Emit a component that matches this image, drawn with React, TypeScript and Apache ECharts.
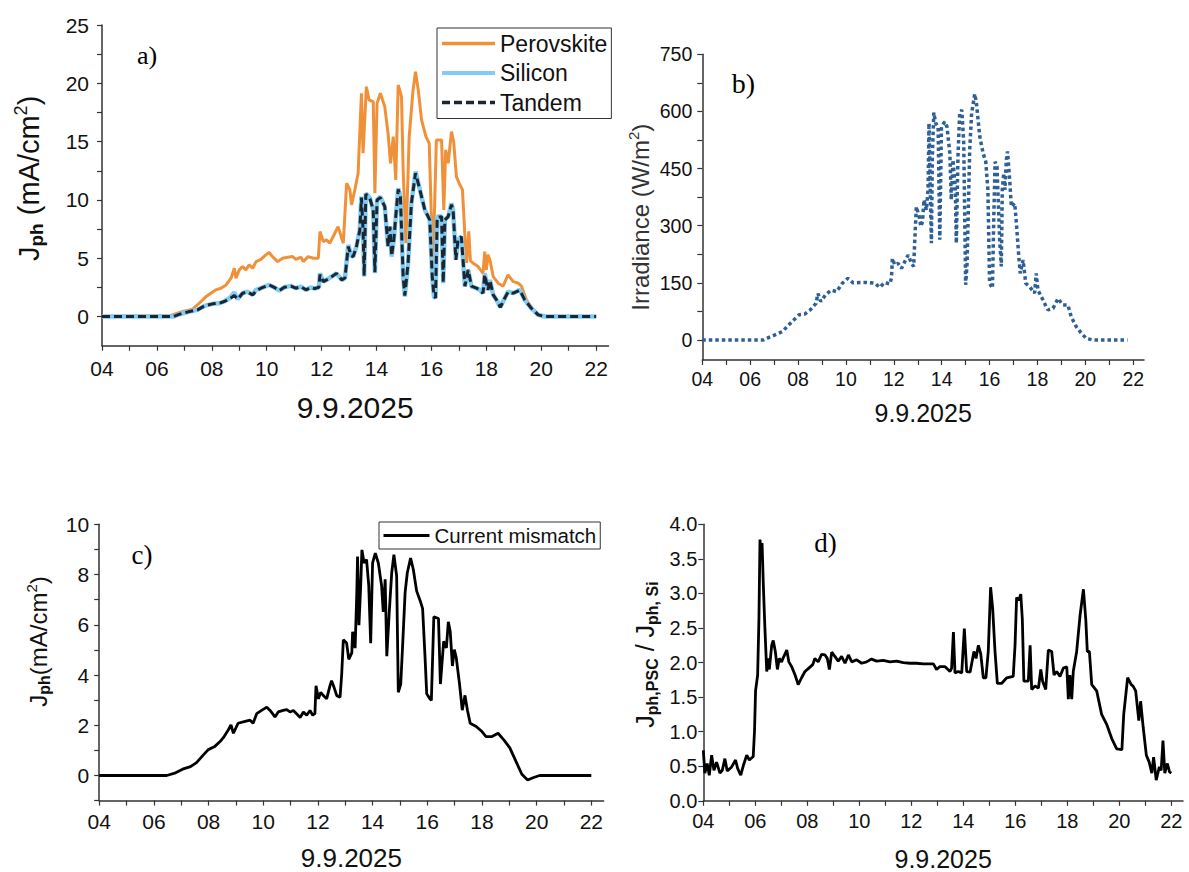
import React, { useEffect, useRef } from 'react';
import * as echarts from 'echarts';

const SANS = "'Liberation Sans', Arial, 'DejaVu Sans', sans-serif";
const SERIF = "'Liberation Serif', 'Times New Roman', serif";

// x axis (hours of 9.9.2025)
const hourTicks = [4, 5, 6, 7, 8, 9, 10, 11, 12, 13, 14, 15, 16, 17, 18, 19, 20, 21, 22];
const hourLabels = [4, 6, 8, 10, 12, 14, 16, 18, 20, 22];

// y axis ticks
const jphLabelsA = [0, 5, 10, 15, 20, 25];
const jphTicksA = [0, 2.5, 5, 7.5, 10, 12.5, 15, 17.5, 20, 22.5, 25];
const irrLabels = [0, 150, 300, 450, 600, 750];
const irrTicks = [0, 75, 150, 225, 300, 375, 450, 525, 600, 675, 750];
const jphLabelsC = [0, 2, 4, 6, 8, 10];
const jphTicksC = [-1, 0, 1, 2, 3, 4, 5, 6, 7, 8, 9, 10];
const ratioLabels = [0, 0.5, 1, 1.5, 2, 2.5, 3, 3.5, 4];

// a) photocurrent densities [hour, mA/cm2]
const perovskite: [number, number][] = [
  [4, 0], [6.5, 0.1], [6.94, 0.43], [7.3, 0.63], [7.54, 1.14], [7.79, 1.71], [7.97, 2.0], [8.15, 2.29],
  [8.33, 2.43], [8.52, 2.71], [8.7, 3.29], [8.82, 4.14], [8.88, 3.29], [9.0, 4.0], [9.12, 4.29], [9.24, 4.0],
  [9.36, 4.43], [9.49, 4.14], [9.61, 4.71], [9.79, 4.91], [9.97, 5.29], [10.09, 5.49], [10.21, 5.14],
  [10.4, 4.71], [10.58, 5.0], [10.76, 5.09], [10.94, 5.14], [11.06, 4.91], [11.25, 5.09], [11.33, 4.71],
  [11.51, 5.14], [11.7, 5.0], [11.88, 5.0], [11.94, 7.29], [12.06, 6.43], [12.18, 6.57], [12.3, 6.29],
  [12.48, 7.14], [12.6, 7.71], [12.79, 6.29], [12.91, 11.43], [13.03, 10.86], [13.09, 9.57], [13.21, 10.86],
  [13.33, 12.29], [13.45, 19.14], [13.51, 14.0], [13.63, 19.71], [13.73, 18.57], [13.88, 18.43],
  [13.94, 10.57], [14.02, 18.29], [14.14, 19.14], [14.3, 18.0], [14.42, 15.71], [14.51, 13.14],
  [14.61, 15.43], [14.7, 11.71], [14.79, 19.86], [14.91, 18.86], [14.97, 12.57], [15.07, 6.29],
  [15.19, 15.43], [15.33, 19.43], [15.42, 21.0], [15.52, 19.43], [15.64, 16.86], [15.8, 15.43],
  [15.92, 14.86], [16.0, 8.29], [16.06, 4.57], [16.18, 15.14], [16.37, 15.14], [16.45, 9.14],
  [16.52, 14.29], [16.61, 13.14], [16.73, 15.86], [16.81, 15.0], [16.91, 12.0], [17.01, 11.43],
  [17.13, 10.86], [17.22, 6.86], [17.28, 4.6], [17.36, 7.3], [17.42, 4.8], [17.52, 4.57], [17.7, 4.29],
  [17.88, 3.71], [17.94, 5.57], [18.0, 4.0], [18.06, 5.3], [18.13, 4.86], [18.25, 3.43], [18.43, 2.86],
  [18.61, 2.6], [18.79, 3.57], [18.98, 3.0], [19.16, 2.86], [19.28, 2.6], [19.46, 1.43], [19.7, 0.57],
  [19.95, 0.14], [20.19, 0], [22, 0],
];

const silicon: [number, number][] = [
  [4, 0], [6.6, 0], [6.82, 0.2], [7.18, 0.43], [7.48, 0.57], [7.73, 0.91], [8.03, 1.09], [8.27, 1.14],
  [8.45, 1.29], [8.64, 1.57], [8.82, 2.06], [8.94, 1.49], [9.12, 2.0], [9.3, 2.14], [9.49, 1.86],
  [9.61, 2.29], [9.79, 2.43], [10.09, 2.71], [10.27, 2.51], [10.46, 2.23], [10.64, 2.51], [10.88, 2.63],
  [11.06, 2.43], [11.25, 2.57], [11.43, 2.29], [11.6, 2.5], [11.75, 2.4], [11.9, 2.5], [11.94, 3.71],
  [12.06, 3.0], [12.18, 3.14], [12.36, 3.43], [12.54, 3.71], [12.73, 3.14], [12.85, 3.3], [12.97, 6.14],
  [13.08, 5.2], [13.15, 5.14], [13.27, 6.0], [13.39, 7.43], [13.45, 10.29], [13.51, 7.43], [13.55, 3.43],
  [13.61, 10.57], [13.76, 10.14], [13.88, 9.14], [13.94, 3.71], [14.02, 10.0], [14.14, 10.29],
  [14.3, 9.43], [14.42, 6.0], [14.49, 7.71], [14.55, 5.14], [14.63, 6.57], [14.7, 8.57], [14.79, 11.0],
  [14.87, 10.29], [14.97, 3.43], [15.03, 1.71], [15.15, 4.57], [15.27, 9.71], [15.42, 12.43],
  [15.58, 10.86], [15.76, 9.14], [15.94, 8.29], [16.03, 3.43], [16.09, 1.71], [16.15, 1.57],
  [16.21, 8.57], [16.37, 8.57], [16.43, 2.86], [16.49, 8.29], [16.61, 8.57], [16.73, 9.71], [16.79, 9.14],
  [16.89, 4.86], [16.97, 6.57], [17.09, 6.86], [17.22, 2.57], [17.34, 4.0], [17.46, 2.57], [17.64, 2.43],
  [17.76, 2.29], [17.88, 2.0], [17.94, 3.71], [18.06, 2.29], [18.13, 3.14], [18.25, 1.86], [18.37, 1.43],
  [18.51, 0.8], [18.67, 1.57], [18.79, 2.14], [18.98, 2.0], [19.22, 2.29], [19.4, 1.43], [19.64, 0.71],
  [19.89, 0.14], [20.13, 0], [22, 0],
];

const tandem: [number, number][] = [
  [4, 0], [6.6, 0], [6.82, 0.2], [7.18, 0.43], [7.48, 0.57], [7.73, 0.91], [8.03, 1.09], [8.27, 1.14],
  [8.45, 1.29], [8.64, 1.5], [8.82, 1.8], [8.94, 1.49], [9.12, 2.0], [9.3, 2.1], [9.49, 1.86],
  [9.61, 2.2], [9.79, 2.43], [10.09, 2.71], [10.27, 2.51], [10.46, 2.23], [10.64, 2.51], [10.88, 2.6],
  [11.06, 2.43], [11.25, 2.55], [11.43, 2.29], [11.6, 2.48], [11.75, 2.4], [11.9, 2.5], [11.94, 3.6],
  [12.06, 3.0], [12.18, 3.14], [12.36, 3.4], [12.54, 3.7], [12.73, 3.14], [12.85, 3.3], [12.97, 6.0],
  [13.08, 5.2], [13.15, 5.14], [13.27, 6.0], [13.39, 7.4], [13.45, 10.2], [13.51, 7.43], [13.55, 3.5],
  [13.61, 10.5], [13.76, 10.1], [13.88, 9.14], [13.94, 3.8], [14.02, 10.0], [14.14, 10.2],
  [14.3, 9.43], [14.42, 6.0], [14.49, 7.71], [14.55, 5.2], [14.63, 6.57], [14.7, 8.57], [14.79, 10.9],
  [14.87, 10.29], [14.97, 3.43], [15.03, 1.8], [15.15, 4.57], [15.27, 9.71], [15.42, 12.3],
  [15.58, 10.86], [15.76, 9.14], [15.94, 8.29], [16.03, 3.43], [16.09, 1.8], [16.15, 1.6],
  [16.21, 8.5], [16.37, 8.57], [16.43, 2.9], [16.49, 8.29], [16.61, 8.57], [16.73, 9.6], [16.79, 9.14],
  [16.89, 4.86], [16.97, 6.57], [17.09, 6.86], [17.22, 2.6], [17.34, 4.0], [17.46, 2.6], [17.64, 2.43],
  [17.76, 2.29], [17.88, 2.0], [17.94, 3.6], [18.06, 2.29], [18.13, 3.1], [18.25, 1.86], [18.37, 1.43],
  [18.51, 0.8], [18.67, 1.57], [18.79, 2.1], [18.98, 2.0], [19.22, 2.25], [19.4, 1.43], [19.64, 0.71],
  [19.89, 0.14], [20.13, 0], [22, 0],
];

// b) irradiance [hour, W/m2]
const irradiance: [number, number][] = [
  [4, 0], [6.55, 0], [6.79, 7], [7.1, 15], [7.34, 22], [7.57, 37], [7.81, 52], [8.04, 66], [8.28, 68],
  [8.51, 79], [8.75, 96], [8.83, 122], [8.95, 101], [9.14, 118], [9.38, 131], [9.61, 127], [9.85, 149],
  [10.08, 162], [10.3, 150], [10.58, 151], [10.86, 151], [11.21, 149], [11.41, 138], [11.62, 151],
  [11.83, 147], [11.9, 162], [11.94, 214], [12.04, 197], [12.18, 201], [12.32, 188], [12.46, 206],
  [12.6, 223], [12.74, 201], [12.83, 193], [12.87, 254], [12.94, 350], [13.06, 324], [13.13, 298],
  [13.2, 311], [13.26, 368], [13.36, 341], [13.43, 394], [13.47, 569], [13.53, 368], [13.57, 254],
  [13.61, 482], [13.67, 597], [13.75, 569], [13.85, 560], [13.92, 263], [13.99, 560], [14.13, 573],
  [14.22, 560], [14.34, 490], [14.4, 368], [14.47, 473], [14.57, 394], [14.61, 254], [14.68, 482],
  [14.75, 595], [14.84, 604], [14.92, 517], [15.0, 145], [15.06, 201], [15.17, 499], [15.25, 595],
  [15.38, 646], [15.45, 622], [15.59, 534], [15.73, 490], [15.84, 468], [15.93, 394], [16.0, 149],
  [16.12, 136], [16.17, 306], [16.23, 468], [16.31, 455], [16.42, 263], [16.49, 193], [16.53, 394],
  [16.59, 438], [16.64, 394], [16.7, 473], [16.75, 495], [16.84, 420], [16.91, 350], [17.05, 359],
  [17.12, 306], [17.22, 219], [17.28, 175], [17.4, 210], [17.51, 149], [17.67, 140], [17.88, 123],
  [17.95, 175], [18.02, 131], [18.16, 114], [18.33, 92], [18.44, 79], [18.65, 83], [18.86, 109],
  [19.06, 92], [19.27, 92], [19.41, 61], [19.62, 35], [19.83, 18], [20.04, 4], [20.32, 0], [21.76, 0],
];

// c) current mismatch [hour, mA/cm2]
const mismatch: [number, number][] = [
  [4, 0], [6.47, 0], [6.76, 0.09], [7.05, 0.25], [7.34, 0.35], [7.56, 0.51], [7.77, 0.77], [7.99, 1.03],
  [8.21, 1.14], [8.43, 1.36], [8.57, 1.55], [8.72, 1.81], [8.82, 2.01], [8.91, 1.68], [9.08, 2.08],
  [9.3, 2.14], [9.52, 2.2], [9.63, 2.08], [9.76, 2.46], [9.94, 2.59], [10.13, 2.72], [10.25, 2.59],
  [10.43, 2.33], [10.55, 2.53], [10.73, 2.59], [10.86, 2.62], [10.98, 2.53], [11.1, 2.59], [11.22, 2.46],
  [11.35, 2.31], [11.47, 2.53], [11.59, 2.4], [11.71, 2.59], [11.81, 2.4], [11.89, 2.46], [11.93, 3.57],
  [12.02, 3.05], [12.1, 3.31], [12.2, 3.18], [12.32, 3.05], [12.44, 3.57], [12.5, 3.77], [12.59, 3.51],
  [12.69, 3.18], [12.81, 3.12], [12.87, 4.03], [12.93, 5.4], [13.05, 5.27], [13.13, 4.62], [13.24, 4.88],
  [13.27, 5.72], [13.36, 5.07], [13.42, 7.16], [13.45, 8.72], [13.5, 5.98], [13.56, 7.42], [13.61, 8.98],
  [13.69, 8.46], [13.78, 8.59], [13.86, 7.55], [13.93, 5.27], [14.0, 8.46], [14.1, 8.85], [14.21, 8.46],
  [14.33, 7.55], [14.39, 6.51], [14.46, 7.81], [14.52, 4.75], [14.61, 6.51], [14.7, 8.07], [14.78, 8.79],
  [14.88, 7.94], [14.94, 3.31], [15.03, 3.64], [15.1, 5.2], [15.19, 7.29], [15.27, 8.07], [15.39, 8.66],
  [15.49, 8.2], [15.61, 7.35], [15.74, 6.96], [15.83, 6.64], [15.92, 4.68], [15.98, 3.25], [16.1, 3.05],
  [16.15, 2.99], [16.24, 6.32], [16.41, 6.25], [16.48, 3.64], [16.6, 5.34], [16.7, 5.08], [16.77, 6.12],
  [16.84, 5.73], [16.92, 4.36], [16.99, 5.01], [17.06, 4.69], [17.18, 3.64], [17.28, 2.6], [17.38, 3.19],
  [17.47, 2.6], [17.57, 2.08], [17.79, 1.95], [18.0, 1.75], [18.15, 1.55], [18.37, 1.55], [18.59, 1.68],
  [18.8, 1.42], [19.02, 1.1], [19.24, 0.57], [19.46, 0.05], [19.67, -0.18], [19.89, -0.08], [20.11, 0],
  [22, 0],
];

// d) ratio Jph,PSC / Jph,Si
const ratio: [number, number][] = [
  [4.0, 0.73], [4.06, 0.4], [4.15, 0.54], [4.23, 0.37], [4.32, 0.66], [4.41, 0.44], [4.51, 0.56],
  [4.64, 0.4], [4.73, 0.44], [4.83, 0.61], [4.92, 0.43], [5.09, 0.49], [5.24, 0.59], [5.32, 0.47],
  [5.44, 0.37], [5.54, 0.51], [5.67, 0.66], [5.77, 0.59], [5.92, 0.64], [5.97, 1.01], [6.01, 1.59],
  [6.09, 1.82], [6.14, 2.63], [6.18, 3.78], [6.22, 3.59], [6.26, 3.73], [6.31, 3.11], [6.37, 2.49],
  [6.44, 1.87], [6.49, 2.06], [6.54, 1.9], [6.63, 2.25], [6.69, 2.32], [6.77, 2.16], [6.85, 1.9],
  [6.92, 2.06], [7.01, 2.01], [7.1, 2.09], [7.21, 2.18], [7.29, 2.01], [7.4, 1.94], [7.53, 1.82],
  [7.65, 1.68], [7.78, 1.78], [7.91, 1.87], [8.06, 1.92], [8.21, 1.97], [8.29, 2.06], [8.42, 2.01],
  [8.55, 2.12], [8.68, 2.11], [8.77, 2.06], [8.85, 1.9], [8.94, 2.15], [9.06, 2.09], [9.19, 2.02],
  [9.32, 2.09], [9.45, 1.99], [9.58, 2.11], [9.71, 2.01], [9.9, 2.04], [10.09, 1.99], [10.28, 2.01],
  [10.47, 2.05], [10.67, 2.02], [10.92, 2.03], [11.18, 2.01], [11.44, 2.02], [11.69, 2.0], [11.95, 1.99],
  [12.2, 1.99], [12.46, 1.98], [12.85, 1.98], [12.97, 1.9], [13.1, 1.94], [13.3, 1.94], [13.49, 1.87],
  [13.55, 1.92], [13.62, 2.44], [13.68, 1.85], [13.81, 1.87], [13.94, 1.85], [14.04, 2.49], [14.13, 1.87],
  [14.26, 1.86], [14.41, 2.16], [14.49, 2.06], [14.58, 2.25], [14.67, 2.13], [14.77, 1.78], [14.87, 1.78],
  [14.96, 2.16], [15.05, 3.09], [15.13, 2.78], [15.22, 2.16], [15.31, 1.7], [15.48, 1.7], [15.67, 1.78],
  [15.92, 1.8], [15.99, 2.25], [16.05, 2.94], [16.13, 2.9], [16.21, 2.99], [16.27, 2.63], [16.33, 1.73],
  [16.5, 1.73], [16.57, 2.25], [16.63, 1.61], [16.76, 1.66], [16.89, 1.63], [16.98, 1.9], [17.05, 1.73],
  [17.17, 1.61], [17.27, 2.18], [17.4, 2.16], [17.49, 1.82], [17.59, 1.87], [17.72, 1.8], [17.85, 1.92],
  [17.98, 1.94], [18.04, 1.47], [18.1, 1.82], [18.17, 1.47], [18.23, 1.87], [18.36, 2.16], [18.49, 2.68],
  [18.62, 3.06], [18.71, 2.63], [18.77, 2.16], [18.85, 2.16], [18.94, 1.68], [19.13, 1.59], [19.32, 1.25],
  [19.51, 1.11], [19.71, 0.9], [19.9, 0.75], [20.1, 0.74], [20.17, 1.25], [20.32, 1.78], [20.46, 1.68],
  [20.53, 1.66], [20.63, 1.59], [20.75, 1.16], [20.82, 1.44], [20.92, 1.06], [21.04, 0.66], [21.15, 0.56],
  [21.25, 0.4], [21.32, 0.63], [21.42, 0.3], [21.54, 0.49], [21.61, 0.44], [21.68, 0.87], [21.75, 0.4],
  [21.85, 0.54], [21.93, 0.42], [22.0, 0.4],
];

const AXIS_COLOR = '#333';
const fmtHour = (v: number) => (v < 10 ? '0' + v : String(v));

function xAxis(gridIndex: number, fontSize: number, margin: number, nameSize: number, nameGap: number) {
  return {
    type: 'value', gridIndex, min: 4, max: 22.45,
    axisLine: { show: true, onZero: false, lineStyle: { color: AXIS_COLOR, width: 1.5 } },
    axisTick: { show: true, customValues: hourTicks, length: 5, lineStyle: { color: AXIS_COLOR, width: 1.2 } },
    axisLabel: { customValues: hourLabels, formatter: fmtHour, fontSize, margin, color: '#111', fontFamily: SANS },
    splitLine: { show: false },
    name: '9.9.2025', nameLocation: 'middle', nameGap,
    nameTextStyle: { fontSize: nameSize, color: '#111', fontFamily: SANS },
  };
}

function yAxis(gridIndex: number, min: number, max: number, labels: number[], ticks: number[], fontSize: number,
  margin: number, name: string, nameGap: number, nameStyle: any, fmt?: (v: number) => string) {
  return {
    type: 'value', gridIndex, min, max,
    axisLine: { show: true, onZero: false, lineStyle: { color: AXIS_COLOR, width: 1.5 } },
    axisTick: { show: true, customValues: ticks, length: 5, lineStyle: { color: AXIS_COLOR, width: 1.2 } },
    axisLabel: { customValues: labels, fontSize, margin, color: '#111', fontFamily: SANS, formatter: fmt },
    splitLine: { show: false },
    name, nameLocation: 'middle', nameGap, nameTextStyle: nameStyle,
  };
}

export default function App() {
  const ref = useRef<HTMLDivElement>(null);
  useEffect(() => {
    if (!ref.current) return;
    const chart = echarts.init(ref.current, undefined, { renderer: 'svg' });
    const subStyle = (size: number, lh: number) => ({ fontSize: size, fontWeight: 'bold', verticalAlign: 'bottom', lineHeight: lh, fontFamily: SANS, color: '#111' });
    const supStyle = (size: number, lh: number) => ({ fontSize: size, verticalAlign: 'top', lineHeight: lh, fontFamily: SANS, color: '#111' });
    const baseStyle = (size: number, lh: number, color = '#111') => ({ fontSize: size, lineHeight: lh, fontFamily: SANS, color });

    chart.setOption({
      animation: false,
      backgroundColor: '#fff',
      grid: [
        { left: 102, top: 25, width: 506.5, height: 320.7 },
        { left: 702.3, top: 54.3, width: 441.7, height: 305.7 },
        { left: 99.2, top: 524.3, width: 504.4, height: 280 },
        { left: 703.3, top: 524.3, width: 479.7, height: 280 },
      ],
      xAxis: [
        xAxis(0, 21, 12, 30, 47),
        xAxis(1, 19.5, 8.5, 25, 40.5),
        xAxis(2, 21, 10, 26, 44.4),
        xAxis(3, 20, 10.5, 25, 45.2),
      ],
      yAxis: [
        yAxis(0, -2.5, 25, jphLabelsA, jphTicksA, 21, 13, '{b|J}{s|ph}{b| (mA/cm}{p|2}{b|)}', 55.6, {
          padding: [0, 0, 0, 14],
          rich: { b: baseStyle(29, 34), s: subStyle(19, 18), p: supStyle(18, 18) },
        }),
        yAxis(1, -52.5, 750, irrLabels, irrTicks, 19.5, 10, '{b|Irradiance (W/m}{p|2}{b|)}', 48.3, {
          padding: [0, 20, 0, 0],
          rich: { b: baseStyle(24, 28, '#333'), p: { ...supStyle(15, 15), color: '#333' } },
        }),
        yAxis(2, -1, 10, jphLabelsC, jphTicksC, 21, 10, '{b|J}{s|ph}{b|(mA/cm}{p|2}{b|)}', 47.2, {
          padding: [0, 0, 0, 42],
          rich: { b: baseStyle(24, 28), s: subStyle(16, 16), p: supStyle(15, 15) },
        }),
        yAxis(3, 0, 4, ratioLabels, ratioLabels, 20, 6, '{b|J}{s|ph,PSC}{b| / J}{s|ph, Si}', 43.3, {
          padding: [0, 0, 0, 16],
          rich: { b: baseStyle(25, 30), s: subStyle(16, 17) },
        }, (v: number) => v.toFixed(1)),
      ],
      legend: [
        {
          data: [
            { name: 'Perovskite', lineStyle: { width: 3.5 } },
            { name: 'Silicon', lineStyle: { width: 4 } },
            { name: 'Tandem', lineStyle: { width: 3.5 } },
          ],
          orient: 'vertical', left: 437, top: 28,
          itemWidth: 53, itemHeight: 14, itemGap: 6.5, padding: [4, 4, 4.5, 3],
          itemStyle: { opacity: 0, borderWidth: 0 },
          borderColor: '#333', borderWidth: 1, backgroundColor: '#fff', borderRadius: 0,
          textStyle: { fontSize: 23, color: '#111', fontFamily: SANS },
        },
        {
          data: [{ name: 'Current mismatch', lineStyle: { width: 3 } }],
          orient: 'vertical', left: 379, top: 522,
          itemWidth: 46, itemHeight: 14, padding: [3, 4, 3, 3],
          itemStyle: { opacity: 0, borderWidth: 0 },
          borderColor: '#333', borderWidth: 1, backgroundColor: '#fff', borderRadius: 0,
          textStyle: { fontSize: 20.5, color: '#111', fontFamily: SANS },
        },
      ],
      graphic: [
        { type: 'text', x: 147, y: 55, style: { text: 'a)', fontSize: 26, fontFamily: SERIF, fill: '#000', align: 'center', verticalAlign: 'middle', textAlign: 'center', textVerticalAlign: 'middle' } },
        { type: 'text', x: 743.5, y: 83, style: { text: 'b)', fontSize: 28, fontFamily: SERIF, fill: '#000', align: 'center', verticalAlign: 'middle', textAlign: 'center', textVerticalAlign: 'middle' } },
        { type: 'text', x: 142, y: 555, style: { text: 'c)', fontSize: 27, fontFamily: SERIF, fill: '#000', align: 'center', verticalAlign: 'middle', textAlign: 'center', textVerticalAlign: 'middle' } },
        { type: 'text', x: 825.5, y: 543, style: { text: 'd)', fontSize: 27, fontFamily: SERIF, fill: '#000', align: 'center', verticalAlign: 'middle', textAlign: 'center', textVerticalAlign: 'middle' } },
      ],
      series: [
        { name: 'Perovskite', type: 'line', xAxisIndex: 0, yAxisIndex: 0, data: perovskite, symbol: 'none', showSymbol: false,
          lineStyle: { color: '#F0913A', width: 3 }, itemStyle: { color: '#F0913A' }, z: 2 },
        { name: 'Silicon', type: 'line', xAxisIndex: 0, yAxisIndex: 0, data: silicon, symbol: 'none', showSymbol: false,
          lineStyle: { color: '#80CCF5', width: 4.5 }, itemStyle: { color: '#80CCF5' }, z: 3 },
        { name: 'Tandem', type: 'line', xAxisIndex: 0, yAxisIndex: 0, data: tandem, symbol: 'none', showSymbol: false,
          lineStyle: { color: '#1B2630', width: 3, type: [8, 4] }, itemStyle: { color: '#1B2630' }, z: 4 },
        { name: 'Irradiance', type: 'line', xAxisIndex: 1, yAxisIndex: 1, data: irradiance, symbol: 'none', showSymbol: false,
          lineStyle: { color: '#2E6096', width: 3.5, type: [3.5, 3], cap: 'butt' }, itemStyle: { color: '#2E6096' } },
        { name: 'Current mismatch', type: 'line', xAxisIndex: 2, yAxisIndex: 2, data: mismatch, symbol: 'none', showSymbol: false,
          lineStyle: { color: '#000', width: 2.8 }, itemStyle: { color: '#000' } },
        { name: 'Ratio', type: 'line', xAxisIndex: 3, yAxisIndex: 3, data: ratio, symbol: 'none', showSymbol: false,
          lineStyle: { color: '#000', width: 2.8 }, itemStyle: { color: '#000' } },
      ],
    });
    return () => chart.dispose();
  }, []);
  return <div ref={ref} style={{ position: 'fixed', left: 0, top: 0, width: 1189, height: 872, background: '#fff' }} />;
}
